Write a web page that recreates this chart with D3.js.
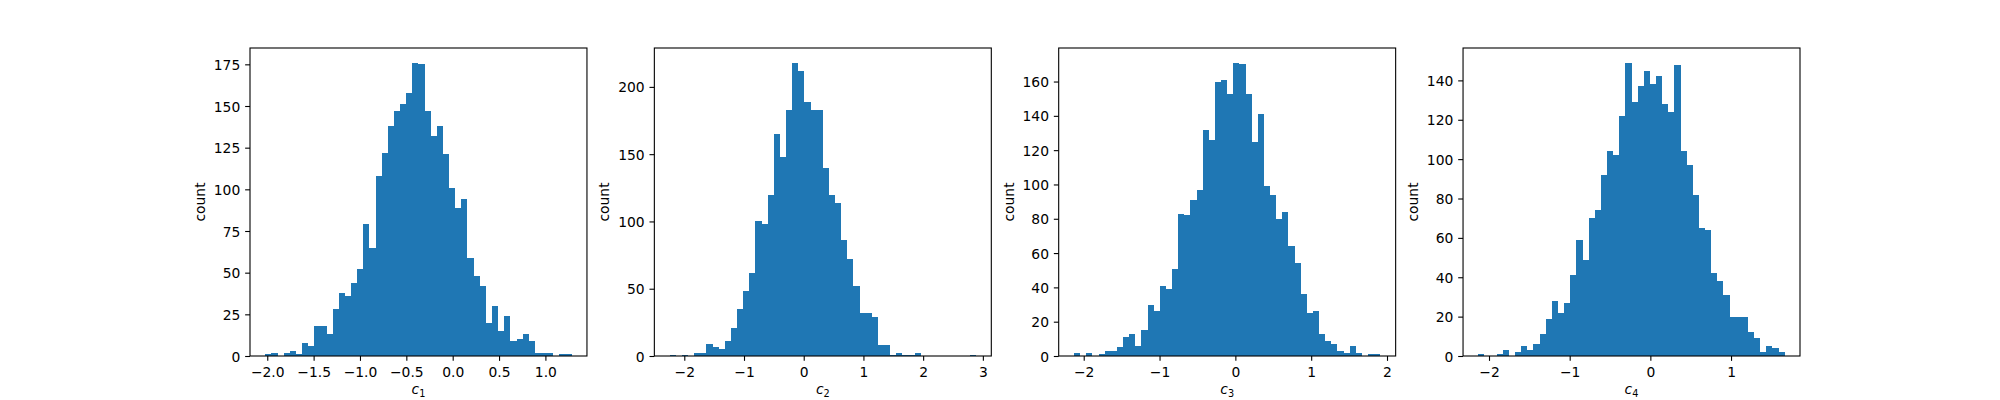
<!DOCTYPE html>
<html>
<head>
<meta charset="utf-8">
<script src="https://cdn.jsdelivr.net/npm/d3@7"></script>
<style>
  body { margin: 0; background: #fff; }
  text { font-family: "DejaVu Sans", sans-serif; fill: #000; }
</style>
</head>
<body>
<div id="chart"></div>
<script>
// histogram counts, 50 bins each
var c1Counts = [1,2,0,2,3,1,8,6,18,18,13,28,38,36,44,52,79,65,108,122,138,147,151,158,176,175,147,132,138,121,101,89,94,59,48,42,20,30,15,24,9,10,13,9,2,2,2,0,1,1];
var c2Counts = [1,0,1,0,2,2,9,7,5,11,21,35,48,62,100,98,120,165,148,183,218,212,189,183,183,140,120,114,86,72,52,32,32,29,8,8,1,2,1,1,2,0,0,0,0,0,0,0,0,1];
var c3Counts = [2,0,2,0,1,3,3,5,11,13,6,15,30,26,41,39,51,83,82,91,97,132,126,160,161,153,171,170,153,125,141,99,94,80,84,64,54,36,25,26,13,9,7,3,2,6,2,0,1,1];
var c4Counts = [1,0,0,1,3,0,2,5,3,6,11,19,28,22,27,41,59,49,70,74,92,104,102,122,149,129,137,145,138,142,128,124,148,104,97,82,65,64,42,38,31,20,20,20,12,9,2,5,4,2];

// first and last bin edge of each histogram
var c1Range = [-2.021, 1.283];
var c2Range = [-2.245, 2.885];
var c3Range = [-2.128, 1.912];
var c4Range = [-2.132, 1.665];

// tick labels
var c1XTicks = [-2.0, -1.5, -1.0, -0.5, 0.0, 0.5, 1.0];
var c2XTicks = [-2, -1, 0, 1, 2, 3];
var c3XTicks = [-2, -1, 0, 1, 2];
var c4XTicks = [-2, -1, 0, 1];
var c1YTicks = [0, 25, 50, 75, 100, 125, 150, 175];
var c2YTicks = [0, 50, 100, 150, 200];
var c3YTicks = [0, 20, 40, 60, 80, 100, 120, 140, 160];
var c4YTicks = [0, 20, 40, 60, 80, 100, 120, 140];

var panels = [
  {counts: c1Counts, range: c1Range, xTicks: c1XTicks, yTicks: c1YTicks, sub: "1", decimals: 1},
  {counts: c2Counts, range: c2Range, xTicks: c2XTicks, yTicks: c2YTicks, sub: "2", decimals: 0},
  {counts: c3Counts, range: c3Range, xTicks: c3XTicks, yTicks: c3YTicks, sub: "3", decimals: 0},
  {counts: c4Counts, range: c4Range, xTicks: c4XTicks, yTicks: c4YTicks, sub: "4", decimals: 0}
];

var width = 2000, height = 400;
var axLeft = 0.125 * width, axRight = 0.9 * width,
    axTop = 48, axBottom = 356, wspace = 0.2;
var axW = (axRight - axLeft) / (panels.length + (panels.length - 1) * wspace);
var gap = axW * wspace;
var fontSize = 13.89, tickLen = 4.86, tickPad = 4.86;
var barColor = "#1f77b4";

var svg = d3.select("#chart")
  .append("svg")
  .attr("width", width)
  .attr("height", height)
  .style("background", "#fff");

function fmt(decimals) {
  return function(d) {
    var s = Math.abs(d).toFixed(decimals);
    return (d < 0 ? "\u2212" : "") + s;
  };
}

panels.forEach(function(p, i) {
  var x0 = axLeft + i * (axW + gap);
  var n = p.counts.length;
  var binW = (p.range[1] - p.range[0]) / n;
  var span = p.range[1] - p.range[0];

  var x = d3.scaleLinear()
    .domain([p.range[0] - 0.05 * span, p.range[1] + 0.05 * span])
    .range([x0, x0 + axW]);
  var y = d3.scaleLinear()
    .domain([0, d3.max(p.counts) * 1.05])
    .range([axBottom, axTop]);

  var g = svg.append("g");

  // bars snapped to pixels so neighbours don't leave seams
  g.selectAll("rect.bar")
    .data(p.counts)
    .enter()
    .append("rect")
    .attr("class", "bar")
    .attr("x", function(d, j) { return x(p.range[0] + j * binW); })
    .attr("width", function(d, j) { return x(p.range[0] + (j + 1) * binW) - x(p.range[0] + j * binW); })
    .attr("y", function(d) { return y(d); })
    .attr("height", function(d) { return axBottom - y(d); })
    .attr("fill", barColor)
    .attr("shape-rendering", "crispEdges");

  var xAxis = g.append("g")
    .attr("transform", "translate(0," + axBottom + ")")
    .call(d3.axisBottom(x)
      .tickValues(p.xTicks)
      .tickFormat(fmt(p.decimals))
      .tickSizeInner(tickLen)
      .tickSizeOuter(0)
      .tickPadding(tickPad));
  xAxis.select(".domain").remove();
  xAxis.selectAll("line").attr("stroke", "#000").attr("stroke-width", 1.1);
  xAxis.selectAll("text")
    .attr("font-size", fontSize)
    .attr("font-family", "DejaVu Sans")
    .attr("fill", "#000")
    .attr("y", 21)
    .attr("dy", null);

  var yAxis = g.append("g")
    .attr("transform", "translate(" + x0 + ",0)")
    .call(d3.axisLeft(y)
      .tickValues(p.yTicks)
      .tickSizeInner(tickLen)
      .tickSizeOuter(0)
      .tickPadding(tickPad));
  yAxis.select(".domain").remove();
  yAxis.selectAll("line").attr("stroke", "#000").attr("stroke-width", 1.1);
  yAxis.selectAll("text")
    .attr("font-size", fontSize)
    .attr("font-family", "DejaVu Sans")
    .attr("fill", "#000")
    .attr("dy", "0.36em");

  // frame (spines)
  g.append("rect")
    .attr("x", x0)
    .attr("y", axTop)
    .attr("width", axW)
    .attr("height", axBottom - axTop)
    .attr("fill", "none")
    .attr("stroke", "#000")
    .attr("stroke-width", 1.1);

  // y label goes left of the widest tick label
  var minX = d3.min(yAxis.selectAll("text").nodes(), function(t) {
    return t.getBBox().x;
  });
  var ly = minX + x0 - 5.56 - 3.3;
  g.append("text")
    .attr("transform", "translate(" + ly + "," + ((axTop + axBottom) / 2) + ") rotate(-90)")
    .attr("text-anchor", "middle")
    .attr("font-size", fontSize)
    .text("count");

  var xl = g.append("text")
    .attr("x", x0 + axW / 2)
    .attr("y", 394)
    .attr("text-anchor", "middle")
    .attr("font-size", fontSize);
  xl.append("tspan").attr("font-style", "italic").text("c");
  xl.append("tspan").attr("font-size", fontSize * 0.7).attr("dy", 3).text(p.sub);
});
</script>
</body>
</html>
